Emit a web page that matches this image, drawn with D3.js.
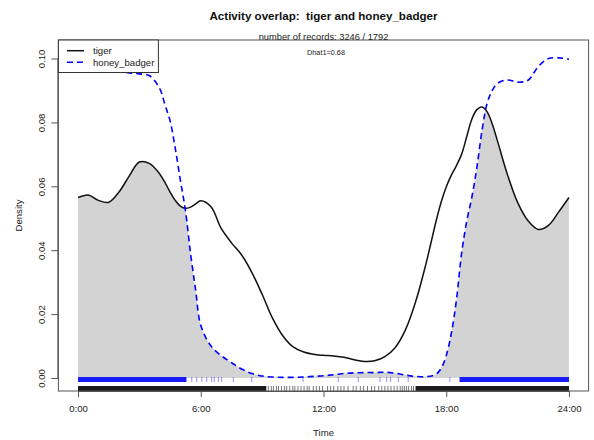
<!DOCTYPE html>
<html><head><meta charset="utf-8">
<script src="https://cdn.jsdelivr.net/npm/d3@7"></script>
<style>body{margin:0;background:#fff}text{font-family:"Liberation Sans",Arial,sans-serif;white-space:pre;}</style>
</head><body><svg id="chart" width="594" height="440"></svg>
<script>
// ---- data ----
const hours  = [0,0.5,1,1.5,2,2.5,3,3.5,4,4.25,4.5,4.75,5,5.25,5.5,5.75,6,6.5,7,7.5,8,8.5,9,9.5,10,10.5,11,11.5,12,12.5,13,13.5,14,14.5,15,15.5,16,16.5,17,17.5,17.75,18,18.25,18.5,18.75,19,19.25,19.5,19.75,20,20.25,20.5,21,21.5,22,22.5,23,23.5,24];
const tiger  = [0.0565,0.0573,0.0556,0.0550,0.0582,0.0632,0.0676,0.0671,0.0638,0.0612,0.0582,0.0556,0.0538,0.0531,0.0535,0.0545,0.0555,0.0536,0.0468,0.0423,0.0385,0.0330,0.0262,0.0188,0.0133,0.0098,0.0082,0.0074,0.0071,0.0069,0.0065,0.0057,0.0052,0.0054,0.0067,0.0095,0.0150,0.0238,0.0355,0.0490,0.0550,0.0598,0.0635,0.0665,0.0700,0.0755,0.0810,0.0840,0.0848,0.0833,0.0795,0.0743,0.0635,0.0548,0.0492,0.0465,0.0478,0.0520,0.0565];
const badger = [0.0998,0.0990,0.0978,0.0968,0.0961,0.0955,0.0952,0.0946,0.0905,0.0855,0.0805,0.0720,0.0620,0.0525,0.0390,0.0275,0.0165,0.0100,0.0070,0.0048,0.0028,0.0014,0.0006,0.0003,0.0002,0.0002,0.0003,0.0005,0.0007,0.0010,0.0014,0.0016,0.0017,0.0017,0.0018,0.0015,0.0009,0.0005,0.0004,0.0012,0.0030,0.0070,0.0140,0.0245,0.0390,0.0490,0.0565,0.0660,0.0775,0.0860,0.0900,0.0922,0.0933,0.0926,0.0932,0.0975,0.1000,0.1002,0.0998];
const seriesNames = ["tiger","honey_badger"];
const xTicks = [0,6,12,18,24];
const xTickLabels = ["0:00","6:00","12:00","18:00","24:00"];
const yTicks = [0,0.02,0.04,0.06,0.08,0.10];
const yTickLabels = ["0.00","0.02","0.04","0.06","0.08","0.10"];
const badgerRugBands = [[0,5.3],[18.65,24]];
const badgerRugTicks = [5.56,5.8,6.05,6.29,6.53,6.66,6.86,7.02,7.59,8.49,11.0,12.72,13.7,14.76,15.09,15.28,15.66,16.14,18.18];
const tigerRugBands = [[0,9.2],[16.5,24]];
const tigerRugTicks = [9.3,9.45,9.55,9.7,9.8,9.95,10.1,10.2,10.35,10.5,10.6,10.75,10.9,11.05,11.2,11.3,11.5,11.65,11.8,11.95,12.2,12.35,12.5,12.7,12.85,13.0,13.2,13.45,13.6,13.8,13.95,14.15,14.35,14.5,14.7,14.85,15.0,15.15,15.3,15.45,15.6,15.75,15.85,15.95,16.05,16.15,16.3,16.4];
const title = "Activity overlap:  tiger and honey_badger";
const subtitle = "number of records: 3246 / 1792";
const dhat = "Dhat1=0.68";

// ---- layout ----
const svg = d3.select("#chart");
const L = 58.4, R = 588.6, T = 40, B = 391;
const x = d3.scaleLinear().domain([-0.96, 24.96]).range([L, R]);
const y = d3.scaleLinear().domain([-0.00407, 0.1058]).range([B, T]);
const pts = (vals) => hours.map((h, i) => [h, vals[i]]);
const curve = d3.curveCatmullRom.alpha(0.5);

// clip: area under honey_badger
svg.append("clipPath").attr("id", "under-badger")
  .append("path")
  .attr("d", d3.area().x(d => x(d[0])).y0(y(0)).y1(d => y(d[1])).curve(curve)(pts(badger)));

// overlap fill = area under tiger clipped by area under badger
svg.append("path")
  .attr("clip-path", "url(#under-badger)")
  .attr("d", d3.area().x(d => x(d[0])).y0(y(0)).y1(d => y(d[1])).curve(curve)(pts(tiger)))
  .attr("fill", "#d3d3d3");

// rugs
const rugB = svg.append("g");
rugB.selectAll("rect").data(badgerRugBands).join("rect")
  .attr("x", d => x(d[0])).attr("width", d => x(d[1]) - x(d[0]))
  .attr("y", 377).attr("height", 5).attr("fill", "#1a1aff");
rugB.selectAll("line").data(badgerRugTicks).join("line")
  .attr("x1", d => x(d)).attr("x2", d => x(d)).attr("y1", 377).attr("y2", 382)
  .attr("stroke", "#0000ff").attr("stroke-width", 0.8).attr("stroke-opacity", 0.55);

const rugT = svg.append("g");
rugT.selectAll("rect").data(tigerRugBands).join("rect")
  .attr("x", d => x(d[0])).attr("width", d => x(d[1]) - x(d[0]))
  .attr("y", 386).attr("height", 5).attr("fill", "#1a1a1a");
rugT.selectAll("line").data(tigerRugTicks).join("line")
  .attr("x1", d => x(d)).attr("x2", d => x(d)).attr("y1", 386).attr("y2", 391)
  .attr("stroke", "#000").attr("stroke-width", 0.9).attr("stroke-opacity", 0.6);

// lines
const line = d3.line().x(d => x(d[0])).y(d => y(d[1])).curve(curve);
svg.append("path").attr("d", line(pts(tiger)))
  .attr("fill", "none").attr("stroke", "#111").attr("stroke-width", 1.5);
svg.append("path").attr("d", line(pts(badger)))
  .attr("fill", "none").attr("stroke", "#0000ff").attr("stroke-width", 1.6)
  .attr("stroke-dasharray", "6,4");

// axes
const xAxis = d3.axisBottom(x).tickValues(xTicks).tickFormat((d, i) => xTickLabels[i]).tickSize(6).tickPadding(8).tickSizeOuter(0);
const gx = svg.append("g").attr("transform", `translate(0,${B})`).call(xAxis);
gx.select(".domain").attr("d", `M${x(0)},0.5H${x(24)}`).attr("stroke", "#555");
gx.selectAll(".tick line").attr("stroke", "#555");
gx.selectAll(".tick text").attr("font-size", 9.6).attr("fill", "#222").attr("font-family", '"Liberation Sans",Arial,sans-serif');

const yAxis = d3.axisLeft(y).tickValues(yTicks).tickFormat((d, i) => yTickLabels[i]).tickSize(7).tickSizeOuter(0);
const gy = svg.append("g").attr("transform", `translate(${L},0)`).call(yAxis);
gy.select(".domain").attr("d", `M-0.5,${y(0)}V${y(0.10)}`).attr("stroke", "#555");
gy.selectAll(".tick line").attr("stroke", "#555");
gy.selectAll(".tick text")
  .attr("font-size", 9.6).attr("fill", "#222").attr("font-family", '"Liberation Sans",Arial,sans-serif')
  .attr("x", null).attr("dy", null)
  .attr("text-anchor", "middle")
  .attr("transform", "translate(-13,0) rotate(-90)")
  .attr("y", 0).attr("dominant-baseline", "auto");

// box
svg.append("rect").attr("x", L).attr("y", T).attr("width", R - L).attr("height", B - T)
  .attr("fill", "none").attr("stroke", "#555").attr("stroke-width", 1);

// titles
svg.append("text").attr("x", (L + R) / 2).attr("y", 20).attr("text-anchor", "middle")
  .attr("font-size", 11.6).attr("font-weight", "bold").attr("fill", "#111").text(title);
svg.append("text").attr("x", (L + R) / 2).attr("y", 39.5).attr("text-anchor", "middle")
  .attr("font-size", 9.3).attr("fill", "#222").text(subtitle);
svg.append("text").attr("x", 326).attr("y", 55).attr("text-anchor", "middle")
  .attr("font-size", 7.3).attr("fill", "#222").text(dhat);
svg.append("text").attr("x", (L + R) / 2).attr("y", 436).attr("text-anchor", "middle")
  .attr("font-size", 9.6).attr("fill", "#222").text("Time");
svg.append("text").attr("transform", `translate(22,${(T + B) / 2}) rotate(-90)`).attr("text-anchor", "middle")
  .attr("font-size", 9.6).attr("fill", "#222").text("Density");

// legend
const lg = svg.append("g");
lg.append("rect").attr("x", L).attr("y", T).attr("width", 100).attr("height", 32.5)
  .attr("fill", "#fff").attr("stroke", "#333").attr("stroke-width", 1);
const legendStyles = [{stroke: "#111", dash: null, w: 1.5}, {stroke: "#0000ff", dash: "6,4", w: 1.6}];
seriesNames.forEach((name, i) => {
  const yy = 50.7 + i * 11.6;
  lg.append("line").attr("x1", 67).attr("x2", 84).attr("y1", yy).attr("y2", yy)
    .attr("stroke", legendStyles[i].stroke).attr("stroke-width", legendStyles[i].w)
    .attr("stroke-dasharray", legendStyles[i].dash);
  lg.append("text").attr("x", 93).attr("y", yy + 3.4).attr("font-size", 9.6).attr("fill", "#222").text(name);
});
</script></body></html>
